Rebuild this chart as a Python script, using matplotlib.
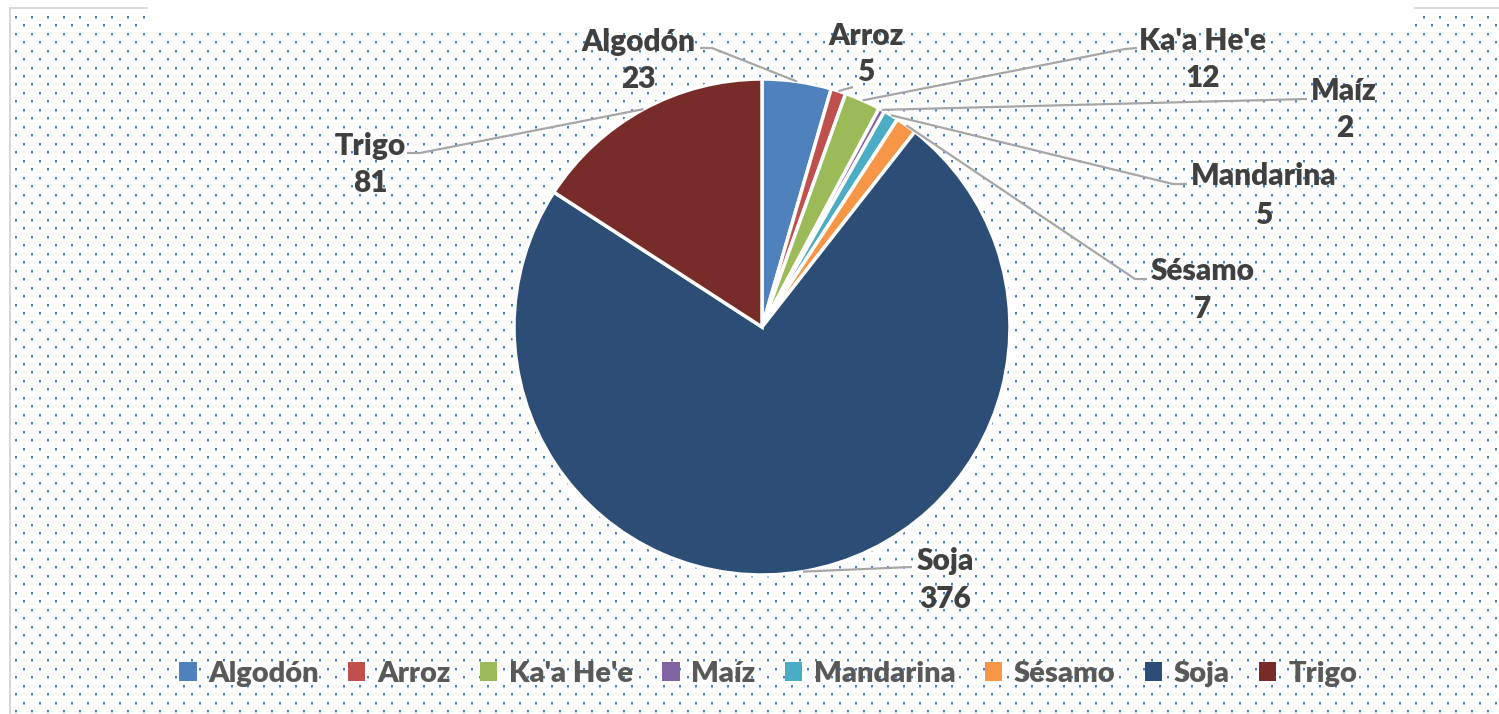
import numpy as np
import matplotlib
matplotlib.use('Agg')
import matplotlib.pyplot as plt

# datos
cultivos = ['Algodón', 'Arroz', "Ka'a He'e", 'Maíz', 'Mandarina', 'Sésamo', 'Soja', 'Trigo']
valores = [23, 5, 12, 2, 5, 7, 376, 81]
colores = ['#4F81BD', '#C0504D', '#9BBB59', '#8064A2', '#4BACC6', '#F79646', '#2C4D75', '#772C2A']

plt.rcParams['font.family'] = ['Lato', 'DejaVu Sans']

W, H = 1499, 714
fig = plt.figure(figsize=(W / 100, H / 100), dpi=100)

# fondo punteado
fondo = np.ones((H, W, 3))
azul = np.array([74, 126, 193]) / 255
claro = np.array([175, 198, 232]) / 255
paso_y = 8.47
fila = 0
y = 16.7
while y < H:
    x0 = 15.7 if fila % 2 == 0 else 23.7
    yi = int(round(y))
    for x in np.arange(x0, W, 16.0):
        xi = int(round(x))
        fondo[yi - 1:yi + 1, xi - 1:xi + 1] = azul
        if yi + 1 < H:
            fondo[yi + 1, xi - 1:xi + 1] = claro
    y += paso_y
    fila += 1
fondo[0:30, 148:1414] = 1.0
fondo[:8, :] = 1.0
fondo[:, :9] = 1.0
gris = np.array([217, 217, 217]) / 255
fondo[7:9, 9:148] = gris
fondo[7:9, 1414:] = gris
fondo[7:, 9:11] = gris
fig.figimage(fondo, xo=0, yo=0, origin='upper', zorder=-5)

ax = fig.add_axes([0, 0, 1, 1])
ax.patch.set_alpha(0)
cx, cy, r = 762, 327, 248
wedges, _ = ax.pie(valores, colors=colores, startangle=-90, counterclock=True,
                   center=(cx, cy), radius=r,
                   wedgeprops=dict(edgecolor='white', linewidth=2.5))
ax.set_xlim(0, W)
ax.set_ylim(H, 0)
ax.set_aspect('equal')
ax.axis('off')

# posiciones de etiquetas (pixeles): nombre, valor, codo de la linea guia
etiquetas = {
    'Algodón': ((638, 42), (638, 79), [(712, 48), (700, 48)]),
    'Arroz': ((866, 36), (866, 72), [(853, 87)]),
    "Ka'a He'e": ((1203, 41), (1203, 78), [(1125, 49), (1137, 48)]),
    'Maíz': ((1344, 91), (1345, 128), [(1307, 99)]),
    'Mandarina': ((1264, 176), (1264, 215), [(1173, 184), (1187, 184)]),
    'Sésamo': ((1203, 271), (1203, 309), [(1135, 279), (1147, 279)]),
    'Soja': ((945, 561), (945, 599), [(912, 567)]),
    'Trigo': ((370, 146), (370, 183), [(420, 153), (407, 153)]),
}

for w, nombre, v in zip(wedges, cultivos, valores):
    mid = np.deg2rad((w.theta1 + w.theta2) / 2)
    px = cx + r * np.cos(mid)
    py = cy + r * np.sin(mid)
    pos_n, pos_v, codo = etiquetas[nombre]
    xs = [px] + [p[0] for p in codo]
    ys = [py] + [p[1] for p in codo]
    ax.plot(xs, ys, color='#A6A6A6', lw=1.6, solid_capstyle='butt')
    ax.text(pos_n[0], pos_n[1], nombre, ha='center', va='center', fontsize=21.5,
            fontweight='heavy', color='#404040')
    ax.text(pos_v[0], pos_v[1], str(v), ha='center', va='center', fontsize=21.5,
            fontweight='heavy', color='#404040')

leg = fig.legend(wedges, cultivos, loc='center', bbox_to_anchor=(768 / W, 1 - 674 / H),
                 ncol=8, frameon=False, handlelength=0.6, handleheight=0.6,
                 handletextpad=0.4, columnspacing=1.0,
                 prop=dict(family=['Lato', 'DejaVu Sans'], weight='heavy', size=21))
for t in leg.get_texts():
    t.set_color('#595959')
for h in leg.legend_handles:
    h.set_edgecolor('none')

fig.savefig('out.png', dpi=100)
